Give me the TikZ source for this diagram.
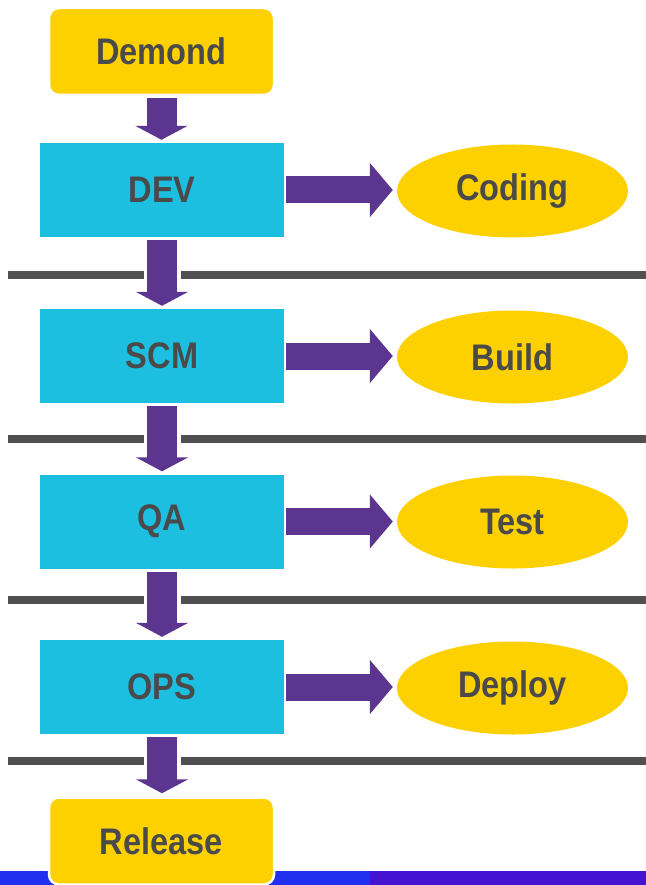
\documentclass[tikz,border=0pt]{standalone}
\usepackage{fontspec}
\setmainfont{Liberation Sans}[FakeStretch=0.88]
\usetikzlibrary{shapes.geometric,arrows.meta}
\definecolor{boxyellow}{HTML}{FDD000}
\definecolor{boxcyan}{HTML}{1DBFE0}
\definecolor{arrowpurple}{HTML}{5B3590}
\definecolor{sepgrey}{HTML}{505050}
\definecolor{txtgrey}{HTML}{4A4A4A}
\definecolor{barblue}{HTML}{2030EE}
\definecolor{barviolet}{HTML}{4612D2}
\tikzset{
  lbl/.style={font=\fontsize{37}{40}\selectfont\bfseries, text=txtgrey},
  yellowbox/.style={lbl, fill=boxyellow, draw=white, line width=2.5pt, rounded corners=10pt,
    minimum width=225pt, minimum height=87pt, inner sep=0pt},
  cyanbox/.style={lbl, fill=boxcyan, minimum width=244pt, minimum height=94pt, inner sep=0pt},
  oval/.style={lbl, ellipse, fill=boxyellow, minimum width=231pt, minimum height=93pt, inner sep=0pt},
  downarrow/.style={draw=arrowpurple, line width=30pt,
    -{Triangle[width=52pt,length=14pt]}, arrowpurple,
    preaction={draw=white, line width=37pt, arrows=-}},
  rightarrow/.style={draw=arrowpurple, line width=27pt,
    -{Triangle[width=53pt,length=23pt]}, arrowpurple},
  sepline/.style={draw=sepgrey, line width=8pt}
}
\begin{document}
\begin{tikzpicture}[x=1pt,y=-1pt]
\useasboundingbox (0,0) rectangle (645,885);
% bottom bar
\fill[barblue] (0,871) rectangle (370,886);
\fill[barviolet] (370,871) rectangle (646,886);
% separator lines
\draw[sepline] (8,274.5) -- (646,274.5);
\draw[sepline] (8,439) -- (646,439);
\draw[sepline] (8,600) -- (646,600);
\draw[sepline] (8,761) -- (646,761);
% nodes
\node[yellowbox] (demond) at (161.5,51.5) {Demond};
\node[cyanbox] (dev) at (162,190) {DEV};
\node[cyanbox] (scm) at (162,356) {SCM};
\node[cyanbox] (qa) at (162,521.5) {QA};
\node[cyanbox] (ops) at (162,687) {OPS};
\node[yellowbox] (release) at (161.5,841) {Release};
\node[oval] (coding) at (512.5,191) {Coding};
\node[oval] (build) at (512.5,357) {Build};
\node[oval] (test) at (512.5,522) {Test};
\node[oval] (deploy) at (512.5,688) {Deploy};
% down arrows
\draw[downarrow, shorten <=2pt, shorten >=3pt] (demond.south) -- (demond.south |- dev.north);
\draw[downarrow, shorten <=3pt, shorten >=3pt] (dev.south) -- (dev.south |- scm.north);
\draw[downarrow, shorten <=3pt, shorten >=3pt] (scm.south) -- (scm.south |- qa.north);
\draw[downarrow, shorten <=3pt, shorten >=3pt] (qa.south) -- (qa.south |- ops.north);
\draw[downarrow, shorten <=3pt, shorten >=3pt] (ops.south) -- (ops.south |- release.north);
% right arrows
\draw[rightarrow, shorten <=2pt, shorten >=4pt] (dev.east) -- (dev.east -| coding.west);
\draw[rightarrow, shorten <=2pt, shorten >=4pt] (scm.east) -- (scm.east -| build.west);
\draw[rightarrow, shorten <=2pt, shorten >=4pt] (qa.east) -- (qa.east -| test.west);
\draw[rightarrow, shorten <=2pt, shorten >=4pt] (ops.east) -- (ops.east -| deploy.west);
\end{tikzpicture}
\end{document}
